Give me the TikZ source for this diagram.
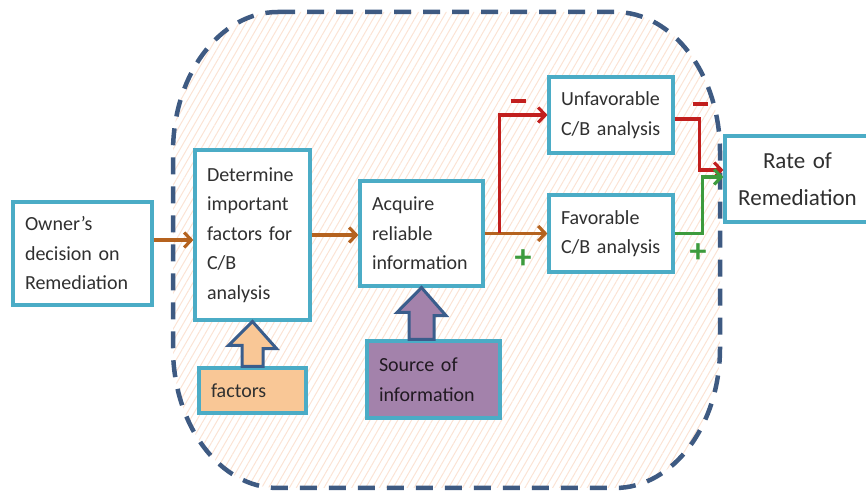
\documentclass[tikz,border=0pt]{standalone}
\usepackage{fontspec}
\setmainfont{Carlito}
\usetikzlibrary{arrows.meta,patterns.meta,calc}
\definecolor{boxline}{HTML}{4BACC6}
\definecolor{txt}{HTML}{303030}
\definecolor{flowbrown}{HTML}{B5621E}
\definecolor{flowred}{HTML}{C21F1E}
\definecolor{flowgreen}{HTML}{3D9B3D}
\definecolor{regionline}{HTML}{3E5A82}
\definecolor{hatch}{HTML}{FBE3D4}
\definecolor{peach}{HTML}{F9C796}
\definecolor{purp}{HTML}{A382AB}
\definecolor{arrowblue}{HTML}{3A5D8C}
\begin{document}
\begin{tikzpicture}[x=1pt,y=1pt,
  box/.style={draw=boxline, line width=3.2pt, fill=white, inner xsep=12pt,
    inner ysep=0pt, align=left, text=txt, font=\fontsize{20}{29.5}\selectfont},
  flow/.style={line width=3.2pt, line join=miter,
    -{Straight Barb[length=7pt,width=15pt,line width=3.2pt]}},
  blockarrow/.style={draw=arrowblue, line width=3pt, line join=miter},
  region/.style={draw=regionline, line width=4.5pt, dash pattern=on 17pt off 12pt,
    pattern={Lines[angle=60,distance=6pt,line width=1pt]}, pattern color=hatch},
  minus/.style={inner sep=0pt, text=flowred},
  plus/.style={inner sep=0pt, text=flowgreen, font=\bfseries\fontsize{34}{34}\selectfont}]
\useasboundingbox (0,0) rectangle (866,497);
\clip (0,0) rectangle (866,497);

% dashed region with hatched fill
\path[region] (278,485) -- (615,485)
  arc[start angle=90, end angle=0, x radius=105, y radius=140] -- (720,149)
  arc[start angle=0, end angle=-90, x radius=105, y radius=140] -- (278,9)
  arc[start angle=270, end angle=180, x radius=105, y radius=140] -- (173,345)
  arc[start angle=180, end angle=90, x radius=105, y radius=140] -- cycle;

% process boxes
\node[box, text width=115pt, minimum height=103pt] (own) at (82.5,243.5)
  {Owner’s\\decision on\\Remediation};
\node[box, text width=91pt, minimum height=170pt] (det) at (252.5,262)
  {Determine\\important\\factors for\\C/B\\analysis};
\node[box, fill=peach, text width=83pt, minimum height=45pt] (fac) at (252.5,106.5)
  {factors};
\node[box, text width=99pt, minimum height=105pt] (acq) at (421.5,263.5)
  {Acquire\\reliable\\information};
\node[box, fill=purp, text=black!80!purp, text width=109pt, minimum height=77pt] (src) at (433.5,117.5)
  {Source of\\information};
\node[box, text width=100pt, minimum height=76pt] (unf) at (611,382)
  {Unfavorable\\C/B analysis};
\node[box, text width=100pt, minimum height=77pt] (fav) at (611,263.5)
  {Favorable\\C/B analysis};
\node[box, align=center, text width=121pt, minimum height=86pt,
  font=\fontsize{23}{37}\selectfont] (rate) at (797.5,318)
  {Rate of\\Remediation};

% flow connectors
\draw[flow, flowbrown] ([yshift=13.5pt]own.east) -- ([yshift=13.5pt]own.east -| det.west);
\draw[flow, flowbrown] (det.east) -- (det.east -| acq.west);
\draw[flow, flowbrown] (acq.east) -- (fav.west);
\coordinate (split) at ($(acq.east)+(15,0)$);
\draw[flow, flowred] (split) |- (unf.west);
\draw[flow, flowred] ([yshift=-4pt]unf.east) -- ++(25,0) |- ([yshift=9pt]rate.west);
\draw[flow, flowgreen] (fav.east) -- ++(28,0) |- ([yshift=2pt]rate.west);

% block arrows feeding the boxes
\draw[blockarrow, fill=peach] ([xshift=-10.5pt]fac.north) -- ++(0,21) -- ++(-13.5,0)
  -- (det.south) -- ++(24,-27) -- ++(-13.5,0) -- ([xshift=10.5pt]fac.north) -- cycle;
\draw[blockarrow, fill=purp] ($(acq.south |- src.north)+(-12.5,0)$) -- ++(0,27) -- ++(-12,0)
  -- (acq.south) -- ++(24.5,-28) -- ++(-12,0) -- ($(acq.south |- src.north)+(12.5,0)$) -- cycle;

% polarity signs
\node[minus] (m1) at (518,396) {\rule{15pt}{4pt}};
\node[minus] (m2) at (700,393) {\rule{15pt}{4pt}};
\node[plus] (p1) at (523,238) {+};
\node[plus] (p2) at (698,244) {+};
\end{tikzpicture}
\end{document}
